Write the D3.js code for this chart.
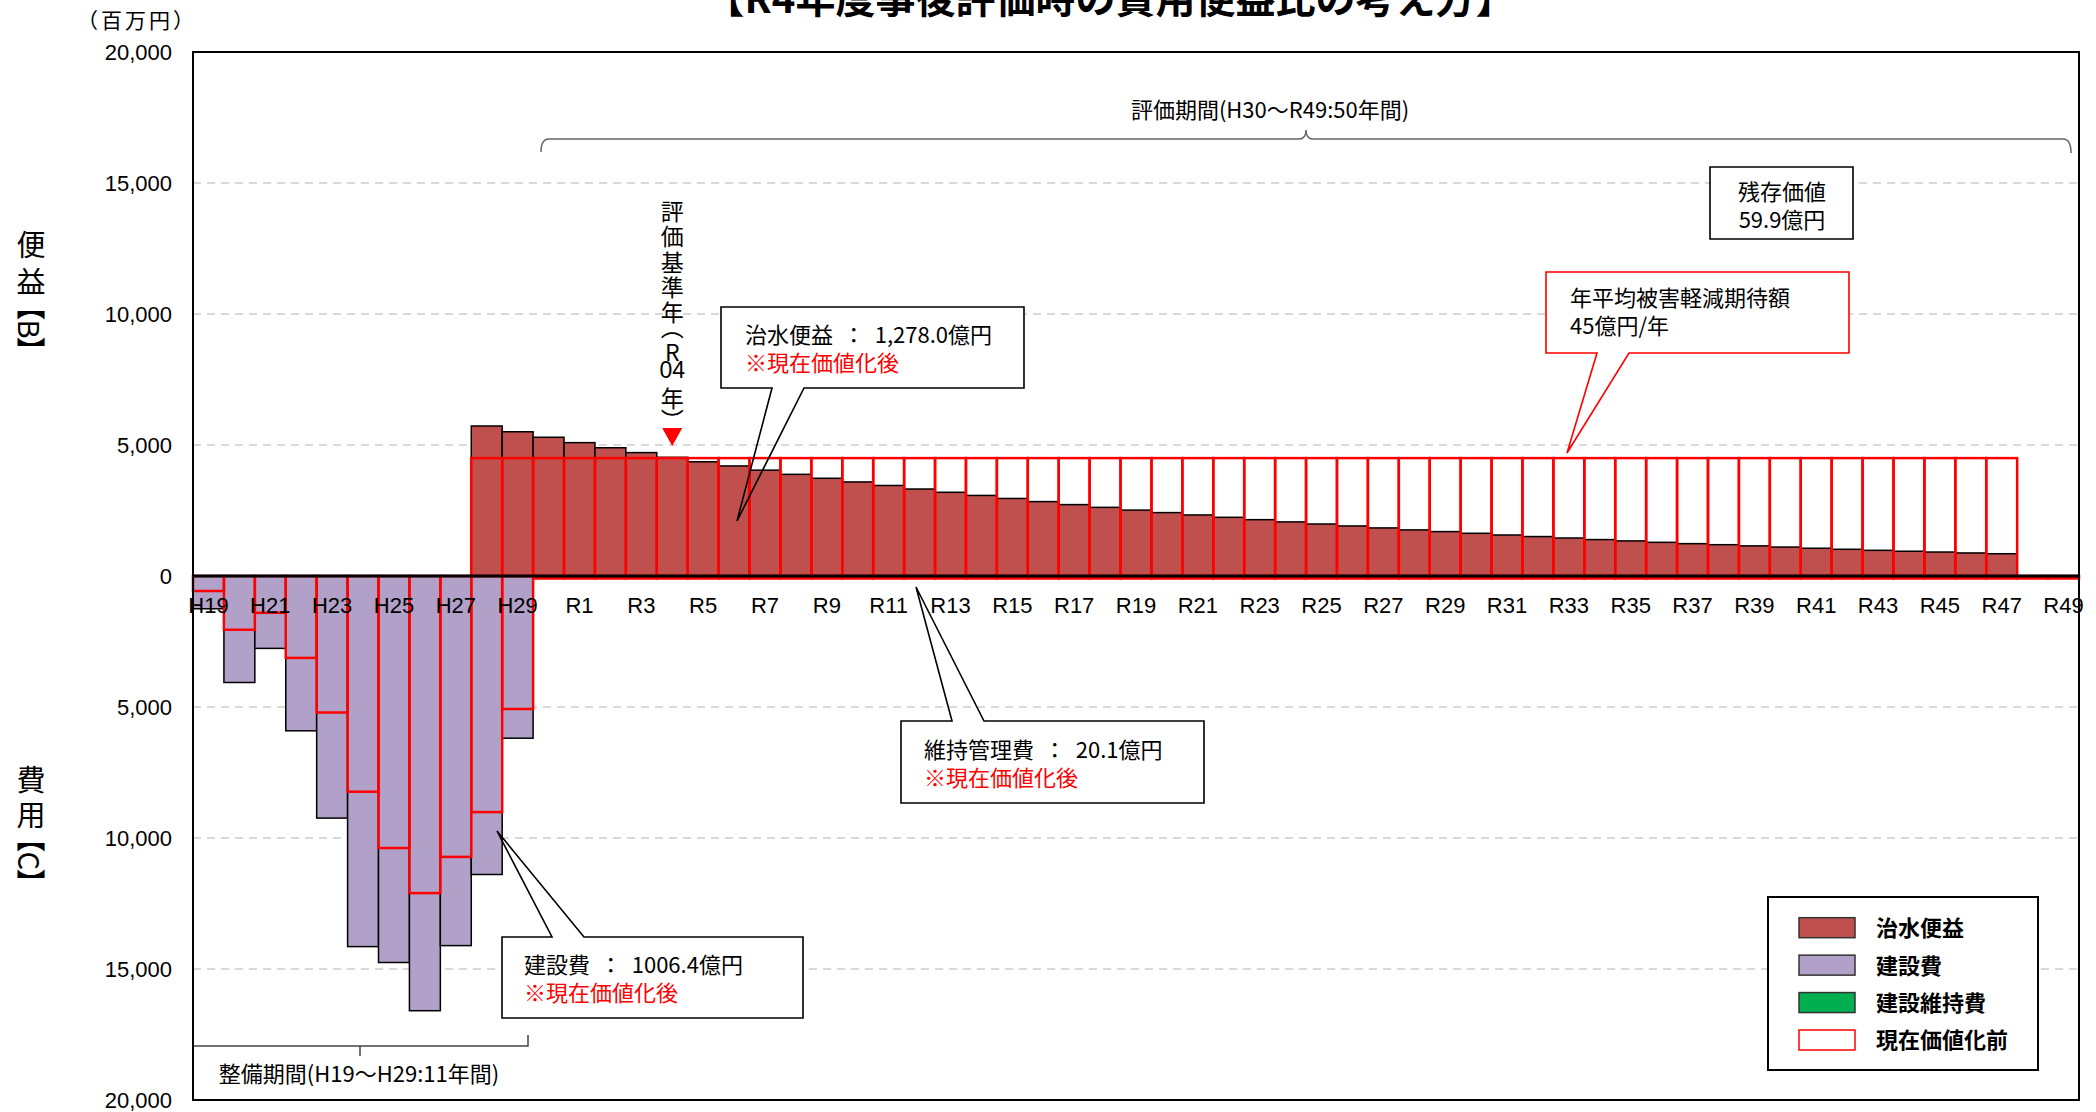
<!DOCTYPE html>
<html><head><meta charset="utf-8">
<script src="https://cdn.jsdelivr.net/npm/d3@7"></script>
<style>
html,body{margin:0;padding:0;background:#fff;overflow:hidden;}
svg{display:block;}
</style></head><body>
<svg id="chart" width="2096" height="1112"></svg>
<script>
// ---------------- data ----------------
const categories = ["H19","H20","H21","H22","H23","H24","H25","H26","H27","H28","H29","H30",
  "R1","R2","R3","R4","R5","R6","R7","R8","R9","R10","R11","R12","R13","R14","R15","R16","R17","R18","R19","R20",
  "R21","R22","R23","R24","R25","R26","R27","R28","R29","R30","R31","R32","R33","R34","R35","R36","R37","R38","R39","R40",
  "R41","R42","R43","R44","R45","R46","R47","R48","R49"];
const xTickLabels = ["H19","H21","H23","H25","H27","H29","R1","R3","R5","R7","R9","R11","R13","R15","R17","R19","R21",
  "R23","R25","R27","R29","R31","R33","R35","R37","R39","R41","R43","R45","R47","R49"];
const yTicks = [20000,15000,10000,5000,0,-5000,-10000,-15000,-20000];

// 建設費 (cost, million yen) – present value and before discounting
const costYears   = ["H19","H20","H21","H22","H23","H24","H25","H26","H27","H28","H29"];
const costPV      = [1250,4065,2763,5908,9240,14145,14752,16592,14107,11393,6191];
const costNominal = [573,2050,1405,3126,5210,8233,10382,12103,10721,9011,5076];

// 治水便益 (benefit, million yen)
const benefitYears = ["H28","H29","H30","R1","R2","R3","R4","R5","R6","R7","R8","R9","R10","R11","R12","R13","R14","R15",
  "R16","R17","R18","R19","R20","R21","R22","R23","R24","R25","R26","R27","R28","R29","R30","R31","R32","R33","R34","R35",
  "R36","R37","R38","R39","R40","R41","R42","R43","R44","R45","R46","R47"];
const benefitPV = [5725,5505,5295,5090,4895,4710,4530,4360,4200,4040,3880,3730,3590,3455,3320,3195,3075,2960,
  2840,2725,2620,2515,2420,2330,2240,2150,2065,1985,1910,1835,1760,1695,1630,1565,1505,1450,1390,1340,
  1285,1235,1195,1150,1105,1060,1020,980,945,915,880,850];
const benefitNominal = [4500,4500,4500,4500,4500,4500,4500,4500,4500,4500,4500,4500,4500,4500,4500,4500,4500,4500,
  4500,4500,4500,4500,4500,4500,4500,4500,4500,4500,4500,4500,4500,4500,4500,4500,4500,4500,4500,4500,
  4500,4500,4500,4500,4500,4500,4500,4500,4500,4500,4500,4500];

// 建設維持費 (maintenance, million yen)
const maintYears = ["H30","R1","R2","R3","R4","R5","R6","R7","R8","R9","R10","R11","R12","R13","R14","R15","R16","R17",
  "R18","R19","R20","R21","R22","R23","R24","R25","R26","R27","R28","R29","R30","R31","R32","R33","R34","R35","R36",
  "R37","R38","R39","R40","R41","R42","R43","R44","R45","R46","R47","R48","R49"];
const maintPV = [110,106,102,98,95,91,88,84,81,78,75,72,69,67,64,62,59,57,55,53,51,49,47,45,43,42,40,39,37,36,
  34,33,32,30,29,28,27,26,25,24,23,22,21,20,19,19,18,17,17,16];
const maintNominal = [95,95,95,95,95,95,95,95,95,95,95,95,95,95,95,95,95,95,95,95,95,95,95,95,95,
  95,95,95,95,95,95,95,95,95,95,95,95,95,95,95,95,95,95,95,95,95,95,95,95,95];

const legendItems = ["治水便益","建設費","建設維持費","現在価値化前"];

// ---------------- chart ----------------
const M = {left:193, right:2079, top:52, bottom:1100};
const JP = "'Noto Sans CJK JP','Noto Sans CJK SC',sans-serif";
const LAT = "'Liberation Sans',Arial,sans-serif";
const C = {benefit:"#C0504D", cost:"#B1A0C7", maint:"#00B050", red:"#FF0000", grid:"#D9D9D9"};

const svg = d3.select("#chart");
const x = d3.scaleBand().domain(categories).range([M.left, M.right]).padding(0);
const y = d3.scaleLinear().domain([-20000, 20000]).range([M.bottom, M.top]);
const bw = x.bandwidth();

// grid
svg.append("g").selectAll("line")
  .data(yTicks.filter(v => v !== 0 && Math.abs(v) !== 20000)).join("line")
  .attr("x1", M.left).attr("x2", M.right)
  .attr("y1", d => y(d)).attr("y2", d => y(d))
  .attr("stroke", C.grid).attr("stroke-width", 2).attr("stroke-dasharray", "8,6");

function rows(years, vals, sign) { return years.map((k,i) => ({k, v: vals[i] * sign})); }
function drawBars(data, fill, stroke, sw) {
  svg.append("g").selectAll("rect").data(data).join("rect")
    .attr("x", d => x(d.k)).attr("width", bw)
    .attr("y", d => Math.min(y(d.v), y(0)))
    .attr("height", d => Math.abs(y(d.v) - y(0)))
    .attr("fill", fill).attr("stroke", stroke).attr("stroke-width", sw);
}
// present-value bars
drawBars(rows(costYears, costPV, -1), C.cost, "#000", 1.5);
drawBars(rows(benefitYears, benefitPV, 1), C.benefit, "#000", 1.5);
drawBars(rows(maintYears, maintPV, -1), C.maint, "none", 0);
// before discounting (red outlines)
drawBars(rows(costYears, costNominal, -1), "none", C.red, 2.5);
drawBars(rows(benefitYears, benefitNominal, 1), "none", C.red, 2.5);
drawBars(rows(maintYears, maintNominal, -1), "none", C.red, 2.5);

// zero line
svg.append("line").attr("x1", M.left).attr("x2", M.right).attr("y1", y(0)).attr("y2", y(0))
  .attr("stroke", "#000").attr("stroke-width", 3);
// frame
svg.append("rect").attr("x", M.left).attr("y", M.top).attr("width", M.right - M.left).attr("height", M.bottom - M.top)
  .attr("fill", "none").attr("stroke", "#000").attr("stroke-width", 2);

// y axis
const ya = svg.append("g").attr("transform", `translate(${M.left},0)`)
  .call(d3.axisLeft(y).tickValues(yTicks).tickSize(0).tickPadding(21)
    .tickFormat(d => d3.format(",")(Math.abs(d))));
ya.select(".domain").remove();
ya.selectAll("text").attr("font-family", LAT).attr("font-size", 22).attr("fill", "#000");

// x axis
const xa = svg.append("g").attr("transform", `translate(0,${y(0)})`)
  .call(d3.axisBottom(x).tickValues(xTickLabels).tickSize(0).tickPadding(21));
xa.select(".domain").remove();
xa.selectAll("text").attr("font-family", LAT).attr("font-size", 22).attr("fill", "#000");

// ---------------- texts ----------------
function txt(s, px, py, o = {}) {
  return svg.append("text").attr("x", px).attr("y", py).text(s)
    .attr("font-family", o.font || JP).attr("font-size", o.size || 22)
    .attr("font-weight", o.weight || "normal").attr("fill", o.fill || "#000")
    .attr("text-anchor", o.anchor || "start")
    .attr("dominant-baseline", o.baseline || "auto")
    .attr("letter-spacing", o.ls || 0);
}
function vtxt(s, px, py, size, ls, orient) {   // vertical (tategaki) text, x = column centre, y = top
  return svg.append("text").attr("x", px).attr("y", py).text(s)
    .attr("font-family", JP).attr("font-size", size).attr("fill", "#000")
    .attr("letter-spacing", ls)
    .style("writing-mode", "vertical-rl").style("text-orientation", orient || "upright")
    .style("font-feature-settings", "'vpal' 1");
}
// title (top clipped as in original)
txt("【R4年度事後評価時の費用便益比の考え方】", 1110, 13, {size: 40, weight: "bold", anchor: "middle"});
txt("（百万円）", 77, 27.5, {size: 21, ls: 3});

// vertical side labels
vtxt("便益", 31, 230.5, 29, 8);
vtxt("【B】", 31, 305, 29, 0, "mixed");
vtxt("費用", 31, 765.5, 29, 6);
vtxt("【C】", 31, 837, 29, 0, "mixed");

// evaluation base year marker (R4)
const mx = x("R4") + bw / 2;
vtxt("評価基準年（R", mx, 199.5, 23, 2.4);
txt("04", mx, 370, {font: LAT, size: 23, anchor: "middle", baseline: "central"});
vtxt("年）", mx, 386.5, 23, 0);
svg.append("path").attr("d", `M${mx-10},428 L${mx+10},428 L${mx},446 Z`).attr("fill", C.red);

// brackets
svg.append("path")
  .attr("d", "M541,152 Q541,139 549,139 H1299 Q1306,139 1306,130 Q1306,139 1313,139 H2063 Q2071,139 2071,153")
  .attr("fill", "none").attr("stroke", "#666").attr("stroke-width", 1.5);
txt("評価期間(H30～R49:50年間)", 1270, 118, {size: 22, anchor: "middle"});
svg.append("path").attr("d", "M194,1046 H528 V1035 M360,1046 V1056")
  .attr("fill", "none").attr("stroke", "#444").attr("stroke-width", 1.5);
txt("整備期間(H19～H29:11年間)", 359, 1082, {size: 22, anchor: "middle"});

// callouts
function callout(bx, by, bw2, bh, wedge, stroke, lines) {
  svg.append("rect").attr("x", bx).attr("y", by).attr("width", bw2).attr("height", bh).attr("fill", "#fff");
  let d;
  if (!wedge) d = `M${bx},${by} H${bx+bw2} V${by+bh} H${bx} Z`;
  else if (wedge.side === "bottom")
    d = `M${bx},${by} H${bx+bw2} V${by+bh} H${wedge.b} L${wedge.tx},${wedge.ty} L${wedge.a},${by+bh} H${bx} Z`;
  else
    d = `M${bx},${by} H${wedge.a} L${wedge.tx},${wedge.ty} L${wedge.b},${by} H${bx+bw2} V${by+bh} H${bx} Z`;
  svg.append("path").attr("d", d).attr("fill", "none").attr("stroke", stroke).attr("stroke-width", 1.6)
    .attr("stroke-linejoin", "miter");
  lines.forEach(l => txt(l.t, l.x, l.y, {fill: l.fill || "#000", anchor: l.anchor || "start", size: 22}));
}
const NB = "\u00A0\u00A0";
callout(721, 307, 303, 81, {side: "bottom", a: 772, b: 804, tx: 737, ty: 521}, "#000", [
  {t: `治水便益${NB}：${NB}1,278.0億円`, x: 745, y: 343},
  {t: "※現在価値化後", x: 745, y: 371, fill: C.red}]);
callout(901, 721, 303, 82, {side: "top", a: 952, b: 984, tx: 916, ty: 587}, "#000", [
  {t: `維持管理費${NB}：${NB}20.1億円`, x: 924, y: 758},
  {t: "※現在価値化後", x: 924, y: 786, fill: C.red}]);
callout(502, 937, 301, 81, {side: "top", a: 552, b: 584, tx: 497, ty: 831}, "#000", [
  {t: `建設費${NB}：${NB}1006.4億円`, x: 524, y: 973},
  {t: "※現在価値化後", x: 524, y: 1001, fill: C.red}]);
callout(1546, 272, 303, 81, {side: "bottom", a: 1597, b: 1629, tx: 1567, ty: 453}, C.red, [
  {t: "年平均被害軽減期待額", x: 1570, y: 306},
  {t: "45億円/年", x: 1570, y: 334}]);
callout(1710, 167, 143, 72, null, "#000", [
  {t: "残存価値", x: 1782, y: 200, anchor: "middle"},
  {t: "59.9億円", x: 1782, y: 228, anchor: "middle"}]);

// legend
const lg = svg.append("g");
lg.append("rect").attr("x", 1768).attr("y", 897).attr("width", 270).attr("height", 173)
  .attr("fill", "#fff").attr("stroke", "#000").attr("stroke-width", 2);
const lgFill = [C.benefit, C.cost, C.maint, "#fff"];
const lgStroke = ["#333", "#333", "#333", C.red];
const lgY = d3.scaleLinear().domain([0, 3]).range([927.7, 1040]);
legendItems.forEach((name, i) => {
  lg.append("rect").attr("x", 1799).attr("y", lgY(i) - 10).attr("width", 56).attr("height", 20)
    .attr("fill", lgFill[i]).attr("stroke", lgStroke[i]).attr("stroke-width", 1.5);
  lg.append("text").attr("x", 1876).attr("y", lgY(i) + 8.4).text(name)
    .attr("font-family", JP).attr("font-size", 22).attr("font-weight", "bold");
});
</script>
</body></html>
